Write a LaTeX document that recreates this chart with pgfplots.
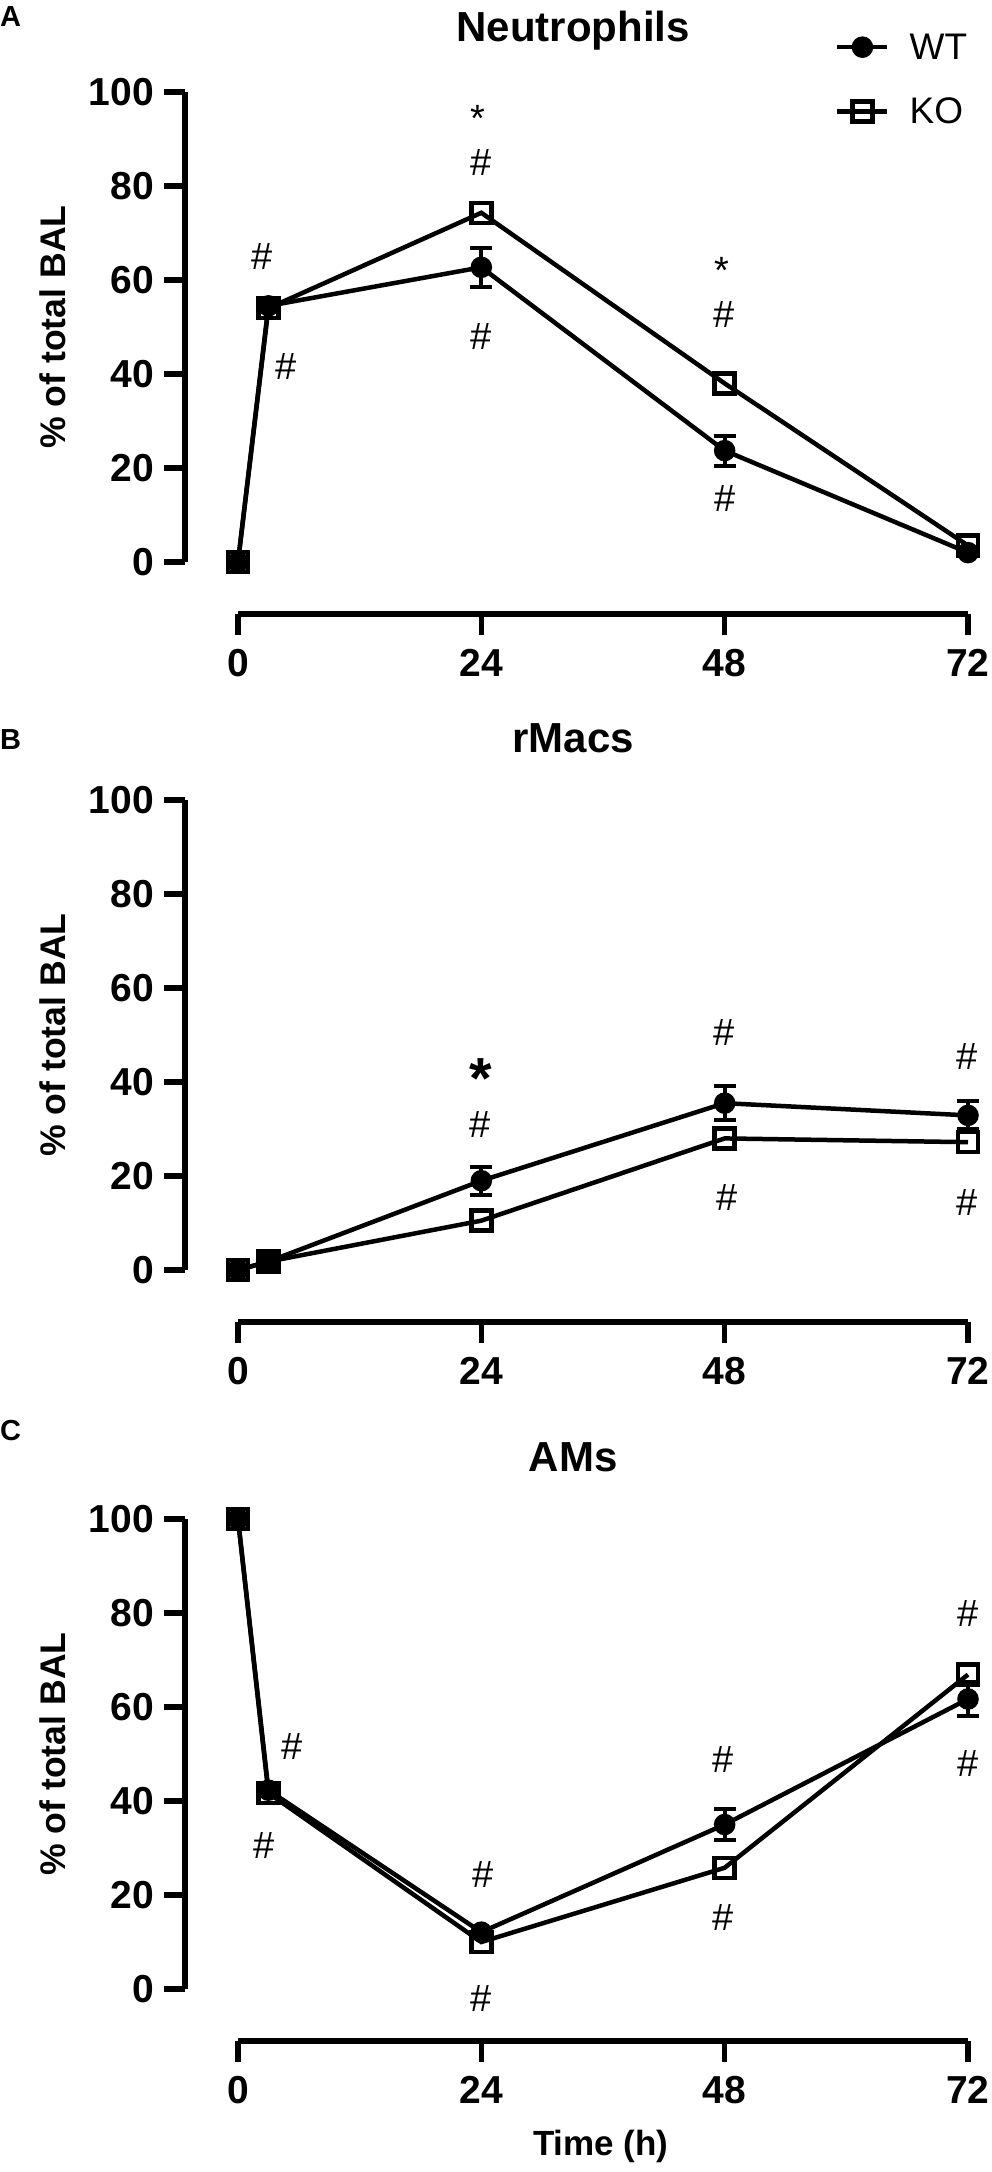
\documentclass[border=0pt]{standalone}
\usepackage{fontspec}
\setmainfont{Liberation Sans}
\usepackage{pgfplots}
\usepackage{pgfplotstable}
\pgfplotsset{compat=1.18}

% WT means
\pgfplotstableread{
h v
0 0
3 54.5
24 62.7
48 23.7
72 2.0
}\WTa
% WT error bars (visible ones)
\pgfplotstableread{
h v e
24 62.7 4.2
48 23.7 3.2
}\WTaErr
\pgfplotstableread{
h v
0 0
3 54.0
24 74.3
48 38.0
72 3.5
}\KOa
\pgfplotstableread{
h v
0 0
3 1.8
24 19.0
48 35.5
72 32.9
}\WTb
\pgfplotstableread{
h v e
24 19.0 3.0
48 35.5 3.6
72 32.9 3.0
}\WTbErr
\pgfplotstableread{
h v
0 0
3 1.8
24 10.5
48 28.0
72 27.2
}\KOb
\pgfplotstableread{
h v
0 100
3 42.3
24 12.1
48 35.0
72 61.7
}\WTc
\pgfplotstableread{
h v e
48 35.0 3.2
72 61.7 3.6
}\WTcErr
\pgfplotstableread{
h v
0 100
3 41.7
24 10.0
48 25.8
72 66.9
}\KOc

\newcommand\annfont{\fontsize{38}{40}\selectfont}
\newcommand\annhash[2]{\node[font=\annfont,inner sep=0pt] at (axis cs:#1,#2) {\#};}
\newcommand\annstar[2]{\node[font=\annfont,inner sep=0pt,yshift=-8pt] at (axis cs:#1,#2) {*};}
\newcommand\annbigstar[2]{\node[font=\fontsize{58}{60}\selectfont\bfseries,inner sep=0pt,yshift=-12pt] at (axis cs:#1,#2) {*};}

\pgfplotsset{
  gp/.style={
    scale only axis, width=730pt, height=470pt,
    xmin=0, xmax=72, ymin=0, ymax=100,
    clip=false,
    axis x line*=bottom, axis y line*=left,
    axis x line shift=52pt, axis y line shift=53pt,
    axis line style={-, line width=6pt, black},
    xtick={0,24,48,72}, ytick={0,20,40,60,80,100},
    tick align=outside, major tick length=21pt,
    every tick/.style={line width=5.5pt, black},
    /pgf/number format/assume math mode=true,
    ticklabel style={font=\fontsize{39}{40}\selectfont\bfseries, inner sep=0pt},
    yticklabel style={xshift=-10pt},
    xticklabel style={yshift=-14pt},
    ylabel={\% of total BAL},
    ylabel style={at={(axis description cs:-0.2534,0.5)}, anchor=center, rotate=0,
      font=\fontsize{35.6}{38}\selectfont\bfseries},
    title style={at={(axis description cs:0.459,1.118)}, anchor=center,
      font=\fontsize{42}{44}\selectfont\bfseries},
    legend image code/.code={\draw[mark repeat=2,mark phase=2,##1] plot coordinates {(0pt,0pt) (25pt,0pt) (50pt,0pt)};},
  },
  wt/.style={black, line width=4.5pt, mark=*, mark size=8.5pt,
    mark options={solid, fill=black}},
  wterr/.style={forget plot, draw=none, mark=none,
    error bars/.cd, y dir=both, y explicit,
    error bar style={line width=4pt, black, draw},
    error mark options={rotate=90, line width=4pt, mark size=11pt, black, draw}},
  ko/.style={black, line width=4.5pt, mark=square, mark size=10pt,
    mark options={solid}},
}

\begin{document}
\begin{tikzpicture}
\useasboundingbox (0,0) rectangle (992pt,-2172pt);

% Panel labels
\node[font=\fontsize{29}{30}\selectfont\bfseries, inner sep=0pt, anchor=west] at (0pt,-17pt) {A};
\node[font=\fontsize{29}{30}\selectfont\bfseries, inner sep=0pt, anchor=west] at (0pt,-740pt) {B};
\node[font=\fontsize{29}{30}\selectfont\bfseries, inner sep=0pt, anchor=west] at (0pt,-1430pt) {C};

% Panel A
\begin{axis}[gp, at={(238pt,-562pt)}, anchor=south west, title={Neutrophils},
  legend style={draw=none, fill=none, at={(axis description cs:0.8178,1.1245)}, anchor=north west,
    inner sep=0pt, column sep=20pt, row sep=37pt, font=\fontsize{37}{40}\selectfont,
    nodes={inner sep=0pt}},
  legend cell align=left]
\addplot[wterr] table[x=h, y=v, y error=e] {\WTaErr};
\addplot[wt] table[x=h, y=v] {\WTa};
\addplot[ko] table[x=h, y=v] {\KOa};
\legend{WT,KO}
\annhash{2.42}{65.1}
\annhash{4.73}{41.5}
\annstar{23.7}{96.0}
\annhash{24}{85.1}
\annhash{24}{47.9}
\annstar{47.7}{63.8}
\annhash{47.9}{52.6}
\annhash{48}{13.6}
\end{axis}

% Panel B
\begin{axis}[gp, at={(238pt,-1270pt)}, anchor=south west, title={rMacs}]
\addplot[wterr] table[x=h, y=v, y error=e] {\WTbErr};
\addplot[wt] table[x=h, y=v] {\WTb};
\addplot[ko] table[x=h, y=v] {\KOb};
\annbigstar{23.9}{43.2}
\annhash{23.9}{31.0}
\annhash{47.9}{50.6}
\annhash{48.2}{15.4}
\annhash{71.9}{45.5}
\annhash{71.9}{14.3}
\end{axis}

% Panel C
\begin{axis}[gp, at={(238pt,-1989pt)}, anchor=south west, title={AMs},
  xlabel={Time (h)},
  xlabel style={at={(axis description cs:0.497,-0.336)}, anchor=center,
    font=\fontsize{35}{38}\selectfont\bfseries}]
\addplot[wterr] table[x=h, y=v, y error=e] {\WTcErr};
\addplot[wt] table[x=h, y=v] {\WTc};
\addplot[ko] table[x=h, y=v] {\KOc};
\annhash{5.3}{51.7}
\annhash{2.6}{30.6}
\annhash{24.2}{24.3}
\annhash{24}{-2.1}
\annhash{47.8}{48.9}
\annhash{47.8}{15.3}
\annhash{72}{80}
\annhash{72}{47.9}
\end{axis}
\end{tikzpicture}
\end{document}
